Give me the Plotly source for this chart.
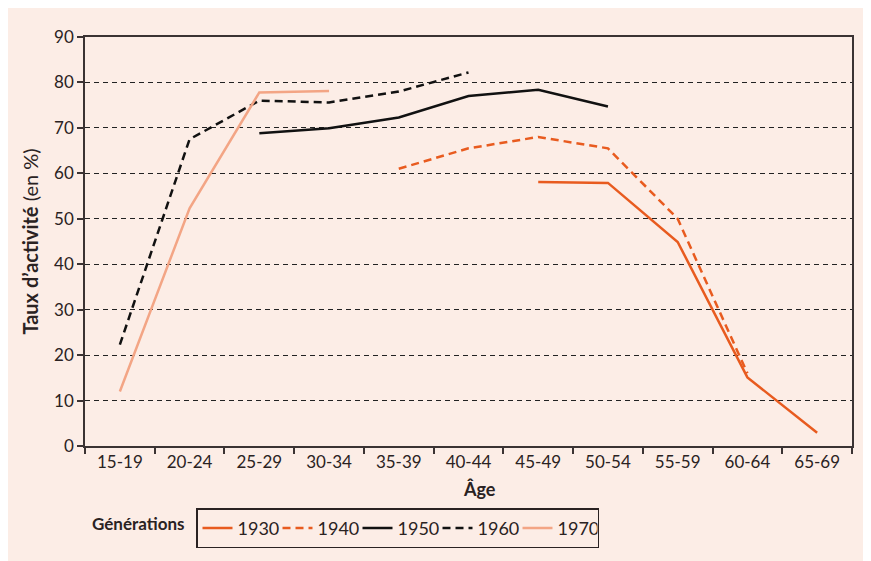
import plotly.graph_objects as go

ages = ["15-19", "20-24", "25-29", "30-34", "35-39", "40-44", "45-49", "50-54", "55-59", "60-64", "65-69"]
gen_1930 = [None, None, None, None, None, None, 58.1, 57.9, 44.9, 15.1, 2.9]
gen_1940 = [None, None, None, None, 61.0, 65.5, 68.0, 65.5, 50.0, 16.0, None]
gen_1950 = [None, None, 68.8, 69.9, 72.3, 77.0, 78.4, 74.7, None, None, None]
gen_1960 = [22.3, 67.5, 76.0, 75.6, 78.0, 82.2, None, None, None, None, None]
gen_1970 = [12.0, 52.3, 77.8, 78.1, None, None, None, None, None, None, None]
y_ticks = [0, 10, 20, 30, 40, 50, 60, 70, 80, 90]

ORANGE = "#e85b1f"
SALMON = "#f3a585"
BLACK = "#111111"
BG = "#fcede6"
AX = "#3b3333"
FONT = "Lato"

fig = go.Figure()
series = [
    ("1930", gen_1930, ORANGE, "solid"),
    ("1940", gen_1940, ORANGE, "8px,5px"),
    ("1950", gen_1950, BLACK, "solid"),
    ("1960", gen_1960, BLACK, "8px,5px"),
    ("1970", gen_1970, SALMON, "solid"),
]
for name, vals, col, dash in series:
    fig.add_trace(go.Scatter(x=ages, y=vals, name=name, mode="lines",
                             line=dict(color=col, width=2.5, dash=dash),
                             connectgaps=False))

OFF = 8  # page body margin
W, H = 871 - OFF, 561 - OFF
L, T = 85 - OFF, 37 - OFF
R = W - (852 - OFF)
B = H - (446.5 - OFF)
pw = W - L - R
ph = H - T - B


def px(xp):
    return (xp - OFF - L) / pw


def py(yp):
    return (T + ph - (yp - OFF)) / ph


fig.update_layout(
    width=W, height=H,
    margin=dict(l=L, r=R, t=T, b=B, pad=0),
    paper_bgcolor=BG, plot_bgcolor=BG,
    font=dict(family=FONT, size=16, color="#2a2222"),
    showlegend=True,
    legend=dict(orientation="h", x=px(196), xanchor="left",
                y=py(509), yanchor="top",
                bordercolor="#2a2222", borderwidth=1.5, bgcolor=BG,
                font=dict(family=FONT, size=18),
                entrywidth=35, entrywidthmode="pixels", tracegroupgap=0),
    xaxis=dict(type="category", range=[-0.5, 10.5], tickson="boundaries",
               ticks="outside", ticklen=6, tickwidth=1.5, tickcolor=AX,
               showline=True, linecolor=AX, linewidth=1.5, mirror=True,
               showgrid=False, zeroline=False,
               tickfont=dict(family=FONT, size=17)),
    yaxis=dict(range=[0, 90], tickvals=y_ticks, ticks="outside", ticklen=6,
               tickwidth=1.5, tickcolor=AX, showline=True, linecolor=AX,
               linewidth=1.5, mirror=True, showgrid=True, gridcolor="#222222",
               griddash="5px,4px", gridwidth=1, zeroline=False,
               tickfont=dict(family=FONT, size=17),
               title=dict(text="<b>Taux d’activité</b> (en %)", standoff=10,
                          font=dict(family=FONT, size=20))),
)

fig.add_annotation(text="<b>Âge</b>", xref="paper", yref="paper",
                   x=px(479), y=py(490), showarrow=False,
                   font=dict(family=FONT, size=18), xanchor="center", yanchor="middle")
fig.add_annotation(text="<b>Générations</b>", xref="paper", yref="paper",
                   x=px(187), y=py(524), showarrow=False,
                   font=dict(family=FONT, size=17), xanchor="right", yanchor="middle")

fig.write_html("out.html")
